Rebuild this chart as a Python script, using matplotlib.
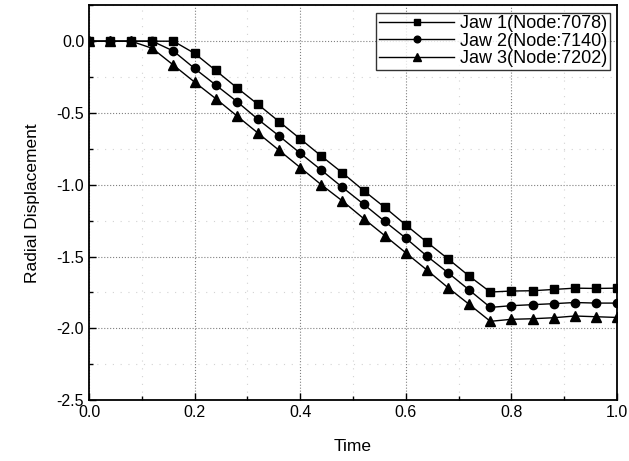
import numpy as np
import matplotlib
matplotlib.use("Agg")
import matplotlib.pyplot as plt
from matplotlib.ticker import MultipleLocator

plt.rcParams['font.family'] = ['Liberation Sans', 'DejaVu Sans']
plt.rcParams['axes.unicode_minus'] = False

# Datos
time = [0.00, 0.04, 0.08, 0.12, 0.16, 0.20, 0.24, 0.28, 0.32, 0.36, 0.40, 0.44, 0.48,
        0.52, 0.56, 0.60, 0.64, 0.68, 0.72, 0.76, 0.80, 0.84, 0.88, 0.92, 0.96, 1.00]
jaw1 = [0, 0, 0, 0, 0, -0.085, -0.204, -0.324, -0.44, -0.56, -0.68, -0.80, -0.917,
        -1.04, -1.157, -1.28, -1.40, -1.516, -1.636, -1.747, -1.74, -1.738, -1.729, -1.72, -1.722, -1.72]
jaw2 = [0, 0, 0, 0, -0.069, -0.19, -0.305, -0.42, -0.544, -0.66, -0.78, -0.898, -1.018,
        -1.135, -1.255, -1.372, -1.497, -1.613, -1.733, -1.854, -1.842, -1.835, -1.828, -1.82, -1.824, -1.824]
jaw3 = [0, 0, 0, -0.05, -0.167, -0.285, -0.40, -0.52, -0.64, -0.76, -0.88, -1.0, -1.113,
        -1.235, -1.354, -1.474, -1.594, -1.717, -1.833, -1.951, -1.937, -1.933, -1.926, -1.914, -1.919, -1.924]
labels = ["Jaw 1(Node:7078)", "Jaw 2(Node:7140)", "Jaw 3(Node:7202)"]

fig = plt.figure(figsize=(6.29, 4.61), dpi=100)
ax = fig.add_axes([0.1415, 0.132, 0.8395, 0.8565])

ax.plot(time, jaw1, color="black", marker="s", markersize=5.5, linewidth=1, label=labels[0])
ax.plot(time, jaw2, color="black", marker="o", markersize=6, linewidth=1, label=labels[1])
ax.plot(time, jaw3, color="black", marker="^", markersize=6.5, linewidth=1, label=labels[2])

ax.set_xlim(0, 1.0)
ax.set_ylim(-2.5, 0.25)
ax.xaxis.set_major_locator(MultipleLocator(0.2))
ax.xaxis.set_minor_locator(MultipleLocator(0.1))
ax.yaxis.set_major_locator(MultipleLocator(0.5))
ax.yaxis.set_minor_locator(MultipleLocator(0.25))
ax.tick_params(which="both", direction="in", top=False, right=False, labelsize=11.5)
ax.tick_params(which="major", length=5, width=1)
ax.tick_params(which="minor", length=3, width=1)

ax.grid(True, which="major", linestyle=":", color="gray", linewidth=0.8)
ax.grid(True, which="minor", linestyle=(0, (1, 6)), color="lightgray", linewidth=0.8)

for s in ax.spines.values():
    s.set_linewidth(1.3)

ax.set_xlabel("Time", fontsize=12.5, labelpad=14)
ax.set_ylabel("Radial Displacement", fontsize=12.5, labelpad=12)

leg = ax.legend(loc="upper right", fontsize=13, frameon=True, fancybox=False,
                edgecolor="black", borderpad=0.15, labelspacing=0.02, handlelength=4.2,
                handletextpad=0.3, borderaxespad=0.4, markerscale=0.8)
leg.get_frame().set_linewidth(1)

fig.savefig("out.png", dpi=100)
